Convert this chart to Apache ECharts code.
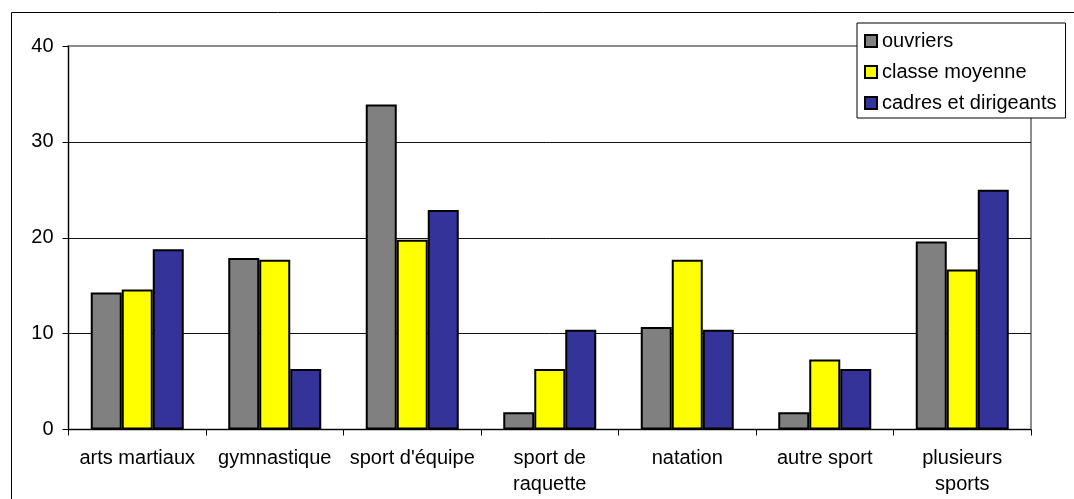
<!DOCTYPE html>
<html>
<head>
<meta charset="utf-8">
<script src="https://cdn.jsdelivr.net/npm/echarts@6/dist/echarts.min.js"></script>
<style>
  html, body { margin: 0; padding: 0; background: #fff; }
  #chart { width: 1074px; height: 499px; }
</style>
</head>
<body>
<div id="chart"></div>
<script>
// Pratique sportive selon la catégorie sociale (%)
const categories = ['arts martiaux', 'gymnastique', "sport d'équipe", 'sport de\nraquette', 'natation', 'autre sport', 'plusieurs\nsports'];
const ouvriers = [14.3, 17.9, 33.9, 1.8, 10.7, 1.8, 19.6];
const classeMoyenne = [14.6, 17.7, 19.8, 6.3, 17.7, 7.3, 16.7];
const cadres = [18.8, 6.3, 22.9, 10.4, 10.4, 6.3, 25.0];
const yTicks = [0, 10, 20, 30, 40];

const FONT = '"Liberation Sans", Arial, sans-serif';

const chart = echarts.init(document.getElementById('chart'), null, { renderer: 'canvas' });

function barSeries(name, values, color) {
  return {
    name: name,
    type: 'bar',
    data: values,
    barWidth: 31,
    barGap: '0%',
    itemStyle: { color: color, borderColor: '#000', borderWidth: 2 }
  };
}

chart.setOption({
  backgroundColor: '#fff',
  animation: false,
  textStyle: { fontFamily: FONT },
  graphic: [{
    type: 'rect',
    left: 9, top: 10,
    shape: { width: 1200, height: 600 },
    style: { fill: 'none', stroke: '#000', lineWidth: 1 },
    z: -10
  }],
  grid: {
    left: 68.5, right: 43, top: 46, bottom: 69.5,
    show: true, borderColor: '#8c8c8c', borderWidth: 2, backgroundColor: '#fff'
  },
  legend: {
    orient: 'vertical',
    left: 857, top: 23,
    itemWidth: 12, itemHeight: 12,
    itemGap: 11,
    padding: [8, 9, 5, 7],
    backgroundColor: '#fff',
    borderColor: '#000', borderWidth: 1,
    textStyle: { fontFamily: FONT, fontSize: 20, color: '#000', lineHeight: 20 },
    icon: 'rect',
    data: ['ouvriers', 'classe moyenne', 'cadres et dirigeants']
  },
  xAxis: {
    type: 'category',
    data: categories,
    axisLine: { lineStyle: { color: '#000', width: 1 } },
    axisTick: { show: true, interval: 0, length: 6, lineStyle: { color: '#000' } },
    axisLabel: { interval: 0, fontFamily: FONT, fontSize: 20, color: '#000', margin: 16, lineHeight: 26 }
  },
  yAxis: {
    type: 'value',
    min: yTicks[0], max: yTicks[yTicks.length - 1], interval: 10,
    axisLine: { show: true, lineStyle: { color: '#000', width: 1 } },
    axisTick: { show: true, length: 6, lineStyle: { color: '#000' } },
    axisLabel: { fontFamily: FONT, fontSize: 20, color: '#000', margin: 15 },
    splitLine: { show: true, showMinLine: false, showMaxLine: false, lineStyle: { color: '#111', width: 1 } }
  },
  series: [
    barSeries('ouvriers', ouvriers, '#808080'),
    barSeries('classe moyenne', classeMoyenne, '#ffff00'),
    barSeries('cadres et dirigeants', cadres, '#333399')
  ]
});
</script>
</body>
</html>
